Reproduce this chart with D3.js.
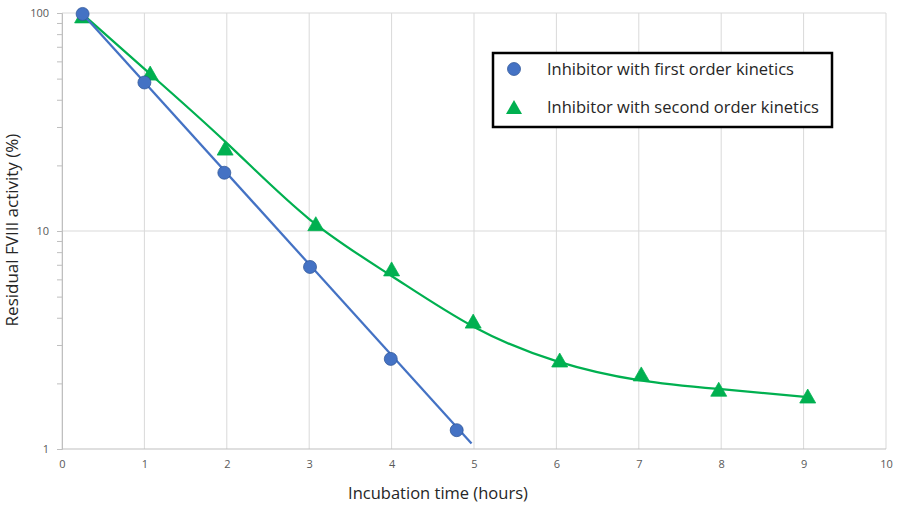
<!DOCTYPE html>
<html>
<head>
<meta charset="utf-8">
<script src="https://cdn.jsdelivr.net/npm/d3@7"></script>
<style>
  body { margin: 0; background: #fff; }
  #chart-container { width: 897px; height: 505px; }
</style>
</head>
<body>
<div id="chart-container"></div>
<script>
// first order inhibitor: measured points and straight (log) fit
const hoursFirst = [0.25, 1, 1.97, 3.01, 3.99, 4.79];
const activityFirst = [99, 48, 18.5, 6.84, 2.59, 1.22];
const fitHoursFirst = [0.25, 4.97];
const fitActivityFirst = [99, 1.06];

// second order inhibitor: measured points and smoothed fit
const hoursSecond = [0.25, 1.07, 1.98, 3.08, 4.0, 4.99, 6.04, 7.03, 7.97, 9.05];
const activitySecond = [97, 53, 24, 10.8, 6.7, 3.86, 2.56, 2.21, 1.88, 1.75];
const fitHoursSecond = [0.25, 1, 2, 3, 4, 5, 6, 7, 8, 9.05];
const fitActivitySecond = [98.9, 55.4, 25.3, 11.35, 6.22, 3.63, 2.53, 2.07, 1.88, 1.73];

const seriesNames = ["Inhibitor with first order kinetics", "Inhibitor with second order kinetics"];
const xTicks = [0, 1, 2, 3, 4, 5, 6, 7, 8, 9, 10];
const yTicks = [1, 10, 100];

document.addEventListener("DOMContentLoaded", function() {
    const width = 897;
    const height = 505;
    const marginTop = 13;
    const marginRight = 11;
    const marginBottom = 56;
    const marginLeft = 62;

    const blue = "#4472C4";
    const green = "#00B050";
    const font = "'Open Sans', sans-serif";

    const x = d3.scaleLinear()
        .domain([0, 10])
        .range([marginLeft, width - marginRight]);

    const y = d3.scaleLog()
        .domain([1, 100])
        .range([height - marginBottom, marginTop]);

    const svg = d3.select("#chart-container").append("svg")
        .attr("width", width)
        .attr("height", height)
        .attr("viewBox", [0, 0, width, height])
        .style("font-family", font);

    // gridlines
    svg.append("g")
        .selectAll("line")
        .data(xTicks)
        .join("line")
          .attr("x1", d => x(d))
          .attr("x2", d => x(d))
          .attr("y1", marginTop)
          .attr("y2", height - marginBottom)
          .attr("stroke", "#d9d9d9")
          .attr("stroke-width", 1);

    svg.append("g")
        .selectAll("line")
        .data(yTicks)
        .join("line")
          .attr("x1", marginLeft)
          .attr("x2", width - marginRight)
          .attr("y1", d => y(d))
          .attr("y2", d => y(d))
          .attr("stroke", d => d === 1 ? "#bfbfbf" : "#d9d9d9")
          .attr("stroke-width", 1);

    // x axis labels
    svg.append("g")
        .attr("transform", `translate(0,${height - marginBottom})`)
        .call(d3.axisBottom(x).tickValues(xTicks).tickSize(0).tickPadding(11))
        .call(g => g.select(".domain").remove())
        .call(g => g.selectAll("text")
            .attr("fill", "#595959")
            .attr("font-size", 11)
            .attr("font-family", font));

    // y axis with minor ticks
    const minorTicks = y.ticks().filter(d => !yTicks.includes(d));
    svg.append("g")
        .attr("transform", `translate(${marginLeft},0)`)
        .call(d3.axisLeft(y).tickValues(minorTicks).tickSize(5).tickFormat(""))
        .call(g => g.select(".domain").attr("stroke", "#bfbfbf"))
        .call(g => g.selectAll(".tick line").attr("stroke", "#bfbfbf"));

    svg.append("g")
        .attr("transform", `translate(${marginLeft},0)`)
        .call(d3.axisLeft(y).tickValues(yTicks).tickSize(5).tickPadding(8).tickFormat(d3.format("d")))
        .call(g => g.select(".domain").remove())
        .call(g => g.selectAll(".tick line").attr("stroke", "#bfbfbf"))
        .call(g => g.selectAll("text")
            .attr("fill", "#595959")
            .attr("font-size", 11)
            .attr("font-family", font));

    // axis titles (Excel centres the x title on the chart area, not the plot)
    svg.append("text")
        .attr("x", 438)
        .attr("y", 499)
        .attr("text-anchor", "middle")
        .attr("fill", "#262626")
        .attr("font-size", 16.5)
        .text("Incubation time (hours)");

    svg.append("text")
        .attr("transform", `translate(18,${(marginTop + height - marginBottom) / 2 - 1}) rotate(-90)`)
        .attr("text-anchor", "middle")
        .attr("fill", "#262626")
        .attr("font-size", 17)
        .text("Residual FVIII activity (%)");

    const line = d3.line()
        .x(d => x(d[0]))
        .y(d => y(d[1]));

    const triangle = "M0,-7L8,7L-8,7Z";

    // second order series
    svg.append("path")
        .datum(d3.zip(fitHoursSecond, fitActivitySecond))
        .attr("fill", "none")
        .attr("stroke", green)
        .attr("stroke-width", 2.25)
        .attr("d", line.curve(d3.curveNatural));

    svg.append("g")
        .selectAll("path")
        .data(d3.zip(hoursSecond, activitySecond))
        .join("path")
          .attr("transform", d => `translate(${x(d[0])},${y(d[1])})`)
          .attr("d", triangle)
          .attr("fill", green)
          .attr("stroke", green)
          .attr("stroke-width", 0.75);

    // first order series
    svg.append("path")
        .datum(d3.zip(fitHoursFirst, fitActivityFirst))
        .attr("fill", "none")
        .attr("stroke", blue)
        .attr("stroke-width", 2.25)
        .attr("d", line.curve(d3.curveLinear));

    svg.append("g")
        .selectAll("circle")
        .data(d3.zip(hoursFirst, activityFirst))
        .join("circle")
          .attr("cx", d => x(d[0]))
          .attr("cy", d => y(d[1]))
          .attr("r", 6.5)
          .attr("fill", blue)
          .attr("stroke", "#2F5597")
          .attr("stroke-width", 0.75);

    // legend
    const legend = svg.append("g").attr("transform", "translate(493,53)");
    legend.append("rect")
        .attr("width", 339)
        .attr("height", 74)
        .attr("fill", "#fff")
        .attr("stroke", "#000")
        .attr("stroke-width", 2.5);

    const items = legend.selectAll("g")
        .data(seriesNames)
        .join("g")
          .attr("transform", (d, i) => `translate(21,${16 + i * 38})`);

    items.filter((d, i) => i === 0).append("circle")
        .attr("r", 6.5)
        .attr("fill", blue)
        .attr("stroke", "#2F5597")
        .attr("stroke-width", 0.75);

    items.filter((d, i) => i === 1).append("path")
        .attr("d", triangle)
        .attr("fill", green);

    items.append("text")
        .attr("x", 33)
        .attr("dy", "0.35em")
        .attr("fill", "#262626")
        .attr("font-size", 16.5)
        .text(d => d);
});
</script>
</body>
</html>
